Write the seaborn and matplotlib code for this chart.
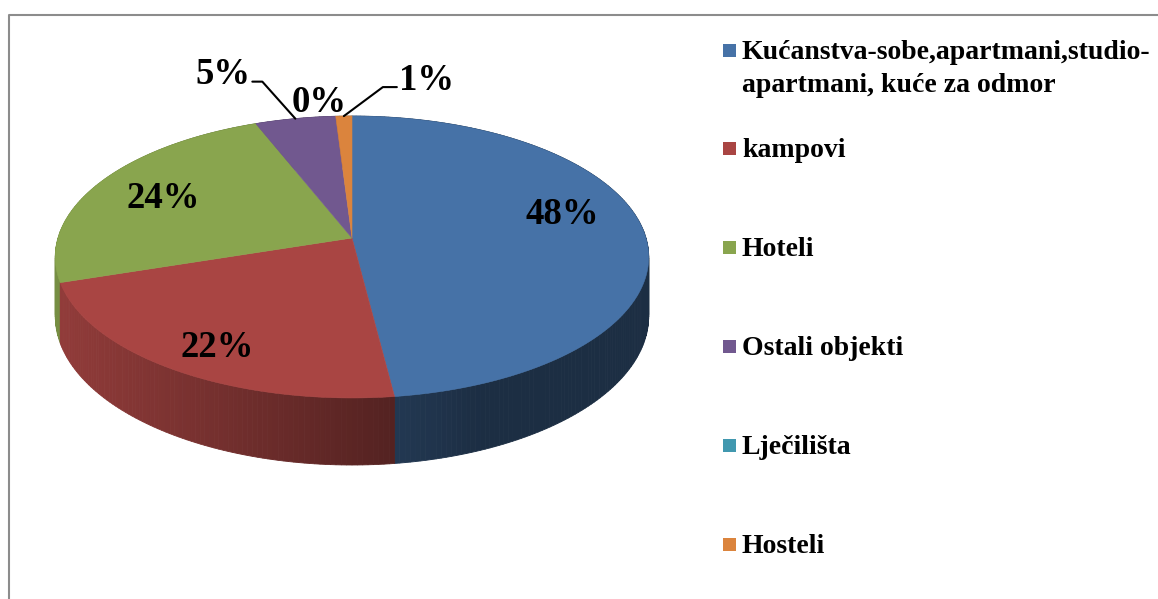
import numpy as np
import matplotlib
matplotlib.use('Agg')
import matplotlib.pyplot as plt
from matplotlib.patches import Polygon, Rectangle
from matplotlib.colors import to_rgb
import seaborn as sns

# podaci
categories = ['Kućanstva-sobe,apartmani,studio-\napartmani, kuće za odmor',
              'kampovi', 'Hoteli', 'Ostali objekti', 'Lječilišta', 'Hosteli']
shares = [48, 22, 24, 5, 0, 1]
pct_labels = ['48%', '22%', '24%', '5%', '0%', '1%']
colors = ['#4672A7', '#A94543', '#89A54E', '#71588F', '#4198AF', '#DB843D']

sns.set_theme(style='white')
plt.rcParams['font.family'] = ['Liberation Serif', 'DejaVu Serif']
plt.rcParams['text.color'] = 'black'

W, H = 1158, 599
fig = plt.figure(figsize=(W / 100, H / 100), dpi=100)
ax = fig.add_axes([0, 0, 1, 1])
ax.set_xlim(0, W)
ax.set_ylim(H, 0)
ax.axis('off')

# okvir
ax.plot([8.5, 8.5, W], [H, 14.5, 14.5], color='#8c8c8c', lw=1.5, solid_capstyle='butt')

# 3D pita (perspektiva)
CX, CY, A, B, P, D = 352, 238, 294, 138.4, 0.1348, 58


def proj(theta, r=1.0, z=0.0):
    u = r * np.sin(theta)
    v = -r * np.cos(theta)
    den = 1 - P * v
    return CX + A * u / den, CY + (B * v + D * z) / den


def shade(x):
    return float(np.clip(0.86 - (x - 60) * 0.00109, 0.4, 0.9))


total = sum(shares)
edges = np.concatenate([[0], np.cumsum(shares)]) / total * 2 * np.pi

# bocne stranice
quads = []
for i, s in enumerate(shares):
    if s == 0:
        continue
    n = max(int(s * 4), 4)
    th = np.linspace(edges[i], edges[i + 1], n + 1)
    for a, b in zip(th[:-1], th[1:]):
        pts = [proj(a), proj(b), proj(b, z=1), proj(a, z=1)]
        mid = (a + b) / 2
        xm = proj(mid)[0]
        c = np.array(to_rgb(colors[i])) * shade(xm)
        quads.append((-np.cos(mid), pts, c))
quads.sort(key=lambda q: q[0])
for _, pts, c in quads:
    ax.add_patch(Polygon(pts, closed=True, facecolor=c, edgecolor=c, lw=0.6))

# gornja ploha
for i, s in enumerate(shares):
    if s == 0:
        continue
    th = np.linspace(edges[i], edges[i + 1], max(int(s * 4), 4) + 1)
    pts = [(CX, CY)] + [proj(t) for t in th]
    ax.add_patch(Polygon(pts, closed=True, facecolor=colors[i], edgecolor=colors[i], lw=0.4))

PCT_FS = 26.5

# oznake postotaka
inside_nudge = {0: (0, -17), 1: (-11, 18), 2: (-5, 1)}
for i, lab in enumerate(pct_labels):
    mid = (edges[i] + edges[i + 1]) / 2
    if i in inside_nudge:
        x, y = proj(mid, r=0.72)
        dx, dy = inside_nudge[i]
        ax.text(x + dx, y + dy, lab, fontsize=PCT_FS, fontweight='bold', ha='center', va='center')

# vanjske oznake s linijama
x5, y5 = proj((edges[3] + edges[4]) / 2)
ax.plot([x5, x5 - 33, x5 - 43], [y5, y5 - 37, y5 - 37], color='black', lw=1.5)
ax.text(x5 - 45, y5 - 44, pct_labels[3], fontsize=PCT_FS, fontweight='bold', ha='right', va='center')

x0, y0 = proj(edges[4])
ax.text(x0 - 17, y0 - 14, pct_labels[4], fontsize=PCT_FS, fontweight='bold', ha='center', va='center')

x1, y1 = proj((edges[5] + edges[6]) / 2)
ax.plot([x1, x1 + 39, x1 + 53], [y1, y1 - 29, y1 - 29], color='black', lw=1.5)
ax.text(x1 + 55, y1 - 36, pct_labels[5], fontsize=PCT_FS, fontweight='bold', ha='left', va='center')

# legenda
leg_y = [50] + [148 + 99 * k for k in range(len(categories) - 1)]
for i, (cat, yy) in enumerate(zip(categories, leg_y)):
    ax.add_patch(Rectangle((723, yy - 6.5), 13, 13, facecolor=colors[i], edgecolor='none'))
    ax.text(742, yy - 10, cat, fontsize=20, fontweight='bold', ha='left', va='top',
            linespacing=1.4)

plt.savefig('out.png', dpi=100)
